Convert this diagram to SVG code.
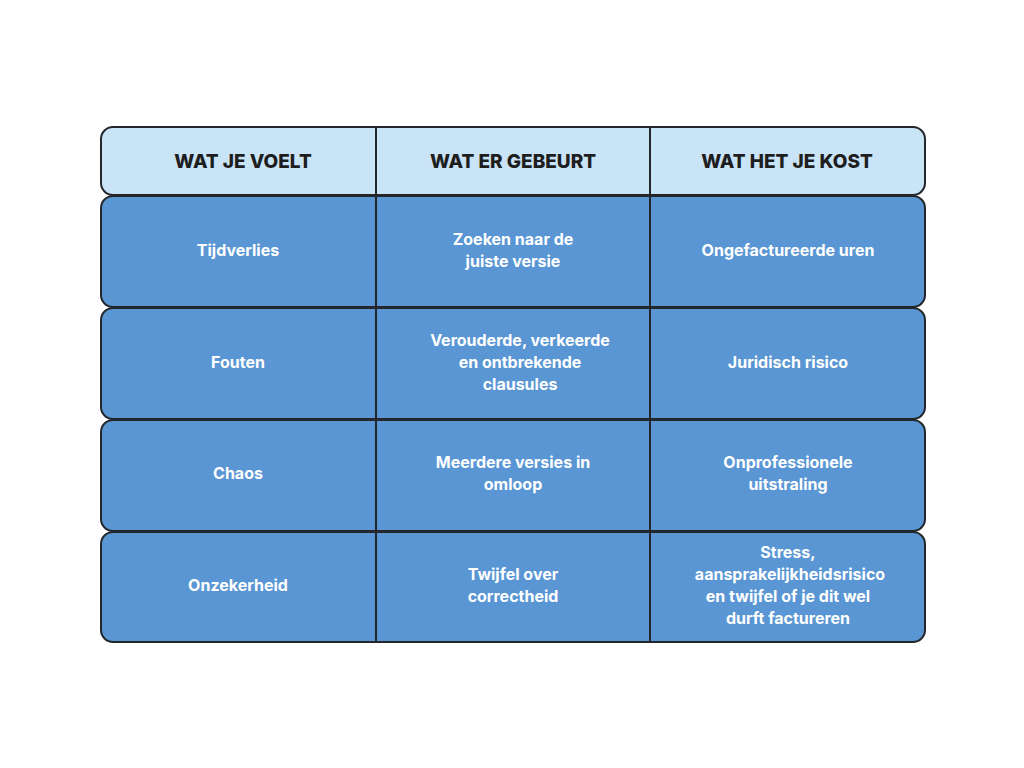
<svg xmlns="http://www.w3.org/2000/svg" width="1024" height="768" viewBox="0 0 1024 768">
<style>
.h{fill:#c9e3f7;stroke:#23272b;stroke-width:2}
.r{fill:#5996d3;stroke:#23272b;stroke-width:2}
.ht{font-family:Inter,"Liberation Sans",sans-serif;font-weight:800;font-size:19px;fill:#1e1e1e;text-anchor:middle}
.t{font-family:Inter,"Liberation Sans",sans-serif;font-weight:700;font-size:16px;fill:#ffffff;text-anchor:middle}
</style>
<rect width="1024" height="768" fill="#ffffff"/>
<g id="header"><rect class="h" x="101" y="127" width="824" height="68" rx="12"/>
<text class="ht" x="243" y="168">WAT JE VOELT</text>
<text class="ht" x="513" y="168">WAT ER GEBEURT</text>
<text class="ht" x="787" y="168">WAT HET JE KOST</text></g>
<g id="row1"><rect class="r" x="101" y="196" width="824" height="111" rx="12"/>
<text class="t" x="238" y="256">Tijdverlies</text>
<text class="t" x="513" y="245">Zoeken naar de</text><text class="t" x="513" y="267">juiste versie</text>
<text class="t" x="788" y="256">Ongefactureerde uren</text></g>
<g id="row2"><rect class="r" x="101" y="308" width="824" height="111" rx="12"/>
<text class="t" x="238" y="368">Fouten</text>
<text class="t" x="520" y="346">Verouderde, verkeerde</text><text class="t" x="520" y="368">en ontbrekende</text><text class="t" x="520" y="390">clausules</text>
<text class="t" x="788" y="368">Juridisch risico</text></g>
<g id="row3"><rect class="r" x="101" y="420" width="824" height="111" rx="12"/>
<text class="t" x="238" y="479">Chaos</text>
<text class="t" x="513" y="468">Meerdere versies in</text><text class="t" x="513" y="490">omloop</text>
<text class="t" x="788" y="468">Onprofessionele</text><text class="t" x="788" y="490">uitstraling</text></g>
<g id="row4"><rect class="r" x="101" y="532" width="824" height="110" rx="12"/>
<text class="t" x="238" y="591">Onzekerheid</text>
<text class="t" x="513" y="580">Twijfel over</text><text class="t" x="513" y="602">correctheid</text>
<text class="t" x="788" y="558">Stress,</text><text class="t" x="790" y="580">aansprakelijkheidsrisico</text><text class="t" x="788" y="602">en twijfel of je dit wel</text><text class="t" x="788" y="624">durft factureren</text></g>
<g id="connectors" stroke="#23272b" stroke-width="2">
<line x1="376" y1="127" x2="376" y2="642"/><line x1="650" y1="127" x2="650" y2="642"/>
</g>
</svg>
